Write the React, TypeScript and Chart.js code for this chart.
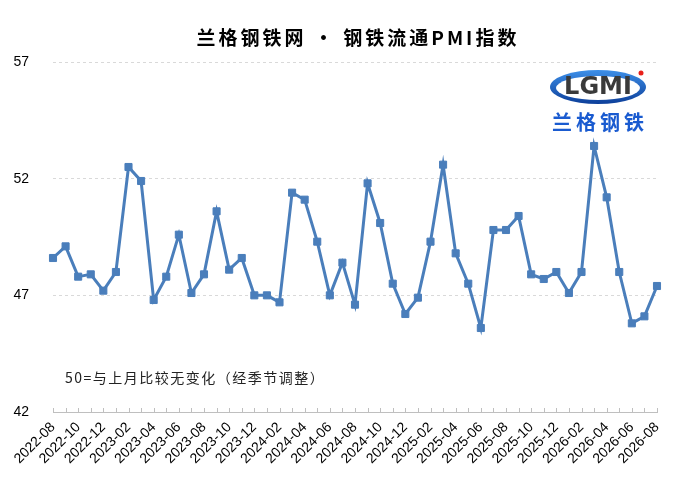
import React, { useEffect, useRef } from "react";
import { Chart, registerables } from "chart.js";

Chart.register(...registerables);

const categories: string[] = [
  "2022-08", "2022-09", "2022-10", "2022-11", "2022-12",
  "2023-01", "2023-02", "2023-03", "2023-04", "2023-05", "2023-06", "2023-07", "2023-08", "2023-09", "2023-10", "2023-11", "2023-12",
  "2024-01", "2024-02", "2024-03", "2024-04", "2024-05", "2024-06", "2024-07", "2024-08", "2024-09", "2024-10", "2024-11", "2024-12",
  "2025-01", "2025-02", "2025-03", "2025-04", "2025-05", "2025-06", "2025-07", "2025-08", "2025-09", "2025-10", "2025-11", "2025-12",
  "2026-01", "2026-02", "2026-03", "2026-04", "2026-05", "2026-06", "2026-07", "2026-08",
];

const pmiValues: number[] = [
  48.6, 49.1, 47.8, 47.9, 47.2, 48.0, 52.5, 51.9, 46.8, 47.8,
  49.6, 47.1, 47.9, 50.6, 48.1, 48.6, 47.0, 47.0, 46.7, 51.4,
  51.1, 49.3, 47.0, 48.4, 46.6, 51.8, 50.1, 47.5, 46.2, 46.9,
  49.3, 52.6, 48.8, 47.5, 45.6, 49.8, 49.8, 50.4, 47.9, 47.7,
  48.0, 47.1, 48.0, 53.4, 51.2, 48.0, 45.8, 46.1, 47.4,
];

const yTicks: number[] = [42, 47, 52, 57];

const titleText = "兰格钢铁网 • 钢铁流通PMI指数";
const noteText = "50=与上月比较无变化（经季节调整）";

const W = 693;
const H = 489;

export default function App() {
  const ref = useRef<HTMLCanvasElement | null>(null);

  useEffect(() => {
    document.body.style.margin = "0";
    const canvas = ref.current;
    if (!canvas) return;

    const decor = {
      id: "decor",
      afterDraw(chart: any) {
        const ctx = chart.ctx as CanvasRenderingContext2D;
        const xs = chart.scales.x;
        const area = chart.chartArea;
        ctx.save();
        // tick marks (inward)
        ctx.strokeStyle = "#bfbfbf";
        ctx.lineWidth = 1;
        for (let i = 0; i < categories.length; i++) {
          const x = Math.round(xs.getPixelForValue(i)) + 0.5;
          ctx.beginPath();
          ctx.moveTo(x, area.bottom);
          ctx.lineTo(x, area.bottom - 4);
          ctx.stroke();
        }
        // title
        ctx.fillStyle = "#000";
        ctx.font = "bold 19px 'Noto Sans CJK SC'";
        (ctx as any).letterSpacing = "3px";
        ctx.textAlign = "center";
        ctx.textBaseline = "middle";
        ctx.fillText(titleText, 358, 38);
        // note
        ctx.font = "14px 'Noto Sans CJK SC'";
        (ctx as any).letterSpacing = "1.5px";
        ctx.textAlign = "left";
        ctx.fillStyle = "#222";
        ctx.fillText(noteText, 65, 378);
        // logo
        (ctx as any).letterSpacing = "0px";
        const cx = 598, cy = 87;
        const g = ctx.createLinearGradient(0, cy - 17, 0, cy + 17);
        g.addColorStop(0, "#3d8fe8");
        g.addColorStop(1, "#0d3f9a");
        ctx.fillStyle = g;
        ctx.beginPath();
        ctx.ellipse(cx, cy, 48, 17, 0, 0, Math.PI * 2);
        ctx.fill();
        ctx.fillStyle = "#ffffff";
        ctx.beginPath();
        ctx.ellipse(cx, cy + 1, 42, 12, 0, 0, Math.PI * 2);
        ctx.fill();
        ctx.font = "bold 24px 'DejaVu Sans'";
        ctx.textAlign = "center";
        ctx.fillStyle = "#3a3a3a";
        ctx.fillText("LGMI", cx, cy + 1);
        ctx.fillStyle = "#e8201a";
        ctx.beginPath();
        ctx.arc(641, 73, 2.5, 0, Math.PI * 2);
        ctx.fill();
        ctx.font = "bold 20px 'Noto Sans CJK SC'";
        (ctx as any).letterSpacing = "4px";
        ctx.fillStyle = "#1a5bd0";
        ctx.fillText("兰格钢铁", cx + 2, 122);
        ctx.restore();
      },
    };

    const chart = new Chart(canvas, {
      type: "line",
      data: {
        labels: categories,
        datasets: [
          {
            data: pmiValues,
            borderColor: "#4a7ebb",
            backgroundColor: "#4a7ebb",
            borderWidth: 3,
            pointStyle: "rect",
            pointRadius: 5,
            pointBorderWidth: 1,
            pointBorderColor: "#4a7ebb",
            pointBackgroundColor: "#4a7ebb",
            tension: 0,
          },
        ],
      },
      options: {
        responsive: false,
        animation: false,
        layout: { padding: { left: 0, right: 36, top: 62, bottom: 0 } },
        plugins: {
          legend: { display: false },
          title: { display: false },
          tooltip: { enabled: false },
        },
        scales: {
          x: {
            type: "category",
            offset: false,
            grid: { display: true, drawOnChartArea: false, drawTicks: false },
            border: { display: true, color: "#bfbfbf", width: 1 },
            ticks: {
              autoSkip: false,
              maxRotation: 45,
              minRotation: 45,
              padding: 7,
              color: "#000",
              font: { family: "'Liberation Sans', Arial", size: 14 },
              callback: (_v: any, i: number) => (i % 2 === 0 ? categories[i] : ""),
            },
            afterFit: (s: any) => {
              s.height = H - 412;
            },
          },
          y: {
            min: yTicks[0],
            max: yTicks[yTicks.length - 1],
            afterBuildTicks: (s: any) => {
              s.ticks = yTicks.map((v) => ({ value: v }));
            },
            grid: { color: "#d9d9d9", drawTicks: false, lineWidth: 1 },
            border: { display: false, dash: [3, 3] },
            ticks: {
              padding: 24,
              color: "#000",
              font: { family: "'Liberation Sans', Arial", size: 14 },
            },
            afterFit: (s: any) => {
              s.width = 53;
            },
          },
        },
      },
      plugins: [decor],
    });

    return () => chart.destroy();
  }, []);

  return (
    <div style={{ width: W, height: H }}>
      <canvas ref={ref} width={W} height={H} />
    </div>
  );
}
